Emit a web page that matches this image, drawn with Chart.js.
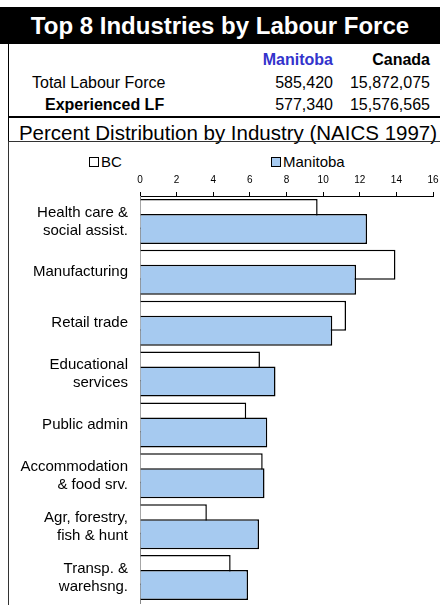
<!DOCTYPE html>
<html>
<head>
<meta charset="utf-8">
<script src="https://cdn.jsdelivr.net/npm/chart.js@4"></script>
<style>
  html, body { margin: 0; background: #fff; font-family: Arial, "Liberation Sans", sans-serif; overflow: hidden; }
  .abs { position: absolute; white-space: nowrap; }
  #title { left: 0; top: 7px; width: 440px; height: 37px; background: #000; color: #fff;
           font-weight: bold; font-size: 24px; line-height: 37px; text-align: center; }
  #tbl { left: 8px; top: 44px; width: 432px; height: 97px; border-left: 1px solid #000; }
  #rule { left: 8px; top: 116px; width: 432px; height: 0; border-top: 2px solid #000; }
  .t16 { font-size: 16px; line-height: 20px; }
  .r { text-align: right; }
  #box { left: 8px; top: 141px; width: 432px; height: 464px; border-left: 1px solid #333; border-top: 1px solid #333; }
  #wrap { position: absolute; left: 9px; top: 142px; width: 431px; height: 463px; }
  .leg { font-size: 15px; line-height: 18px; }
  .sw { display: inline-block; width: 8px; height: 8px; border: 1px solid #000; margin-right: 2px; vertical-align: 0px; }
</style>
</head>
<body>
<div id="title" class="abs">Top 8 Industries by Labour Force</div>
<div id="tbl" class="abs"></div>
<div class="abs t16 r" style="left:233px;top:50px;width:100px;font-weight:bold;color:#3333CC">Manitoba</div>
<div class="abs t16 r" style="left:330px;top:50px;width:100px;font-weight:bold">Canada</div>
<div class="abs t16" style="left:32px;top:73px">Total Labour Force</div>
<div class="abs t16 r" style="left:233px;top:73px;width:100px">585,420</div>
<div class="abs t16 r" style="left:330px;top:73px;width:100px">15,872,075</div>
<div class="abs t16" style="left:45px;top:95px;font-weight:bold">Experienced LF</div>
<div class="abs t16 r" style="left:233px;top:95px;width:100px">577,340</div>
<div class="abs t16 r" style="left:330px;top:95px;width:100px">15,576,565</div>
<div id="rule" class="abs"></div>
<div class="abs" style="left:12px;top:121px;width:432px;text-align:center;font-size:20.5px;line-height:24px">Percent Distribution by Industry (NAICS 1997)</div>
<div id="box" class="abs"></div>
<div class="abs leg" style="left:89px;top:153px"><span class="sw" style="background:#fff"></span>BC</div>
<div class="abs leg" style="left:271px;top:153px"><span class="sw" style="background:#A6CAF0"></span>Manitoba</div>
<div id="wrap"><canvas id="chart"></canvas></div>
<script>
// industries, top 8 by Manitoba labour force
const industries = [
  ['Health care &', 'social assist.'],
  'Manufacturing',
  'Retail trade',
  ['Educational', 'services'],
  'Public admin',
  ['Accommodation', '& food srv.'],
  ['Agr, forestry,', 'fish & hunt'],
  ['Transp. &', 'warehsng.']
];
const bcPct       = [9.7, 13.95, 11.25, 6.55, 5.8, 6.7, 3.65, 4.95];
const manitobaPct = [12.4, 11.8, 10.5, 7.4, 6.95, 6.8, 6.5, 5.9];
const xTicks = [0, 2, 4, 6, 8, 10, 12, 14, 16];

// bars overlap: Manitoba must be painted over BC
const drawManitobaLast = {
  id: 'drawManitobaLast',
  beforeDatasetDraw(chart, args) {
    if (args.index === 1) return false;
  },
  afterDatasetsDraw(chart) {
    chart.getDatasetMeta(1).controller.draw();
  }
};

const font = 'Arial, "Liberation Sans", sans-serif';

new Chart(document.getElementById('chart').getContext('2d'), {
  type: 'bar',
  data: {
    labels: industries,
    datasets: [
      { label: 'BC', data: bcPct, backgroundColor: '#FFFFFF', borderColor: '#000', borderWidth: 1.5 },
      { label: 'Manitoba', data: manitobaPct, backgroundColor: '#A6CAF0', borderColor: '#000', borderWidth: 1.5 }
    ]
  },
  options: {
    indexAxis: 'y',
    responsive: true,
    maintainAspectRatio: false,
    animation: false,
    categoryPercentage: 0.59,
    barPercentage: 2,
    layout: { padding: { top: 0, right: 7, bottom: 2, left: 0 } },
    plugins: { legend: { display: false }, tooltip: { enabled: false } },
    scales: {
      x: {
        position: 'top',
        min: 0, max: 16,
        afterBuildTicks: s => { s.ticks = xTicks.map(v => ({ value: v })); },
        afterFit: s => { s.height = 54; s.paddingLeft = 0; s.paddingRight = 0; },
        grid: { display: true, drawOnChartArea: false, drawTicks: true, tickLength: 4, color: '#000' },
        border: { display: true, color: '#000', width: 1 },
        ticks: { color: '#000', padding: 6, font: { family: font, size: 10 } }
      },
      y: {
        afterFit: s => { s.width = 131; s.paddingTop = 0; s.paddingBottom = 0; },
        grid: { display: false, drawTicks: false },
        border: { display: true, color: '#888', width: 1 },
        ticks: { color: '#000', padding: 12, font: { family: font, size: 15, lineHeight: 1.2 } }
      }
    }
  },
  plugins: [drawManitobaLast]
});
</script>
</body>
</html>
